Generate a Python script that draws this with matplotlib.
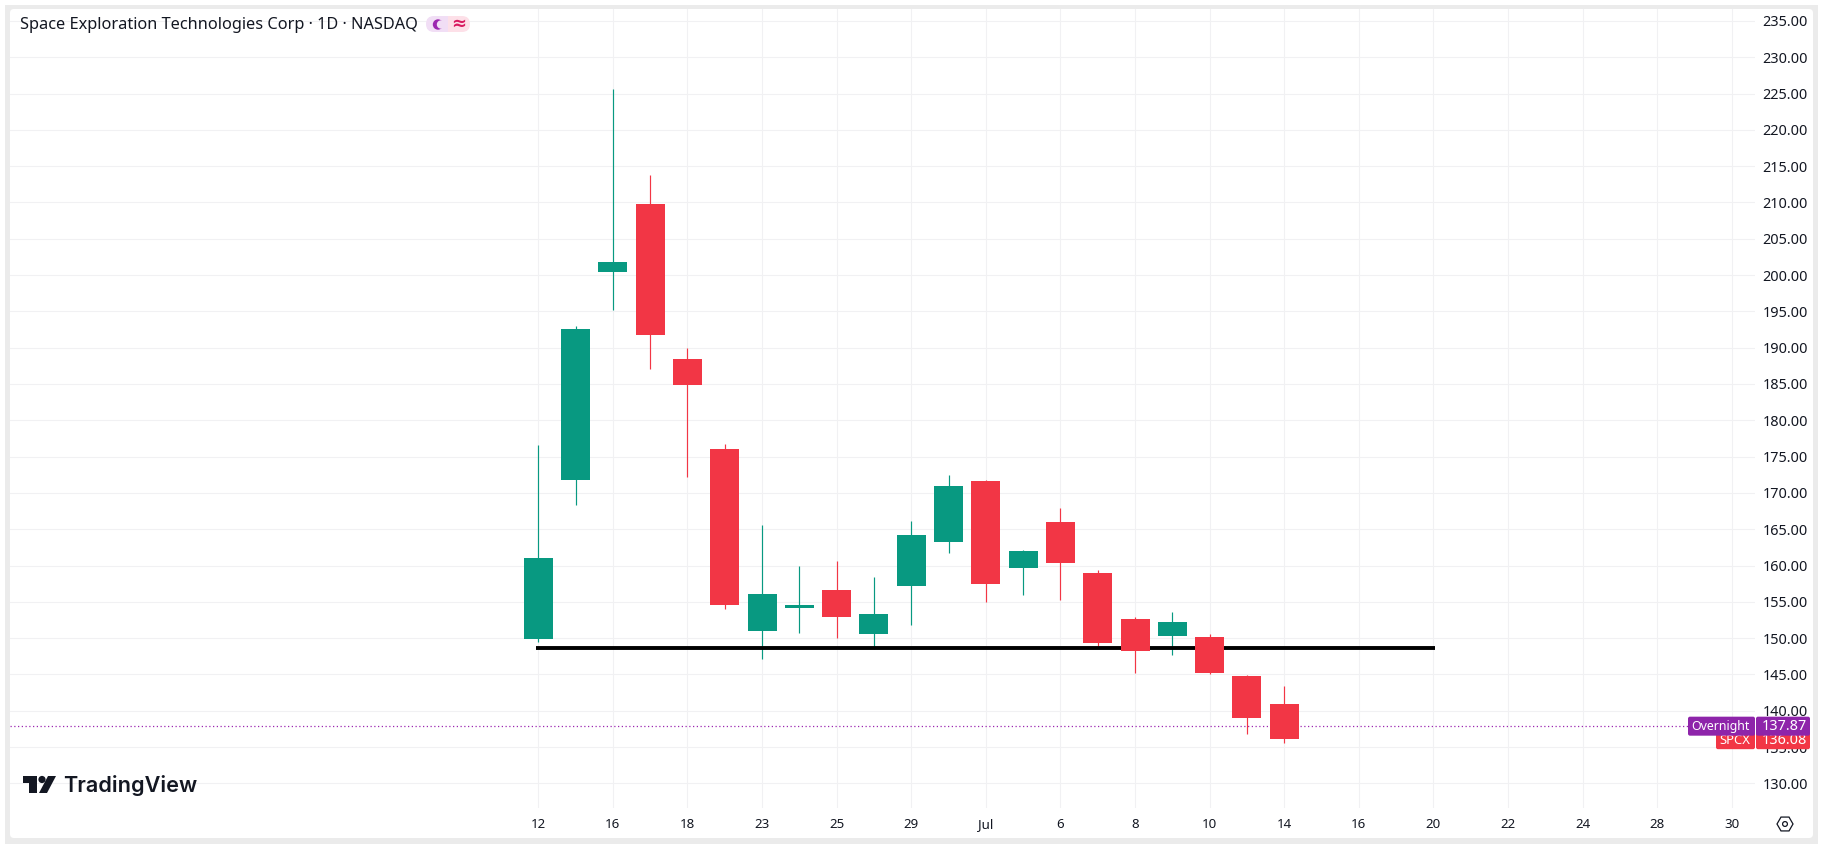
import matplotlib
matplotlib.use("Agg")
import matplotlib.pyplot as plt
from matplotlib.patches import Rectangle, FancyBboxPatch, Circle, Polygon, RegularPolygon

W, H = 1823, 844

# daily candles, oldest first
opens = [149.9, 171.8, 200.4, 209.8, 188.4, 176.1, 151.0, 154.1, 156.6, 150.6, 157.2,
         163.2, 171.6, 159.7, 166.0, 159.0, 152.6, 150.3, 150.2, 144.8, 140.9]
highs = [176.6, 193.0, 225.6, 213.8, 190.0, 176.7, 165.6, 159.9, 160.6, 158.4, 166.1,
         172.5, 171.8, 162.1, 167.9, 159.4, 152.9, 153.6, 150.6, 144.9, 143.4]
lows = [149.4, 168.4, 195.2, 187.1, 172.2, 154.0, 147.1, 150.7, 150.0, 148.5, 151.8,
        161.7, 155.0, 155.9, 155.2, 148.9, 145.2, 147.7, 145.0, 136.8, 135.6]
closes = [161.0, 192.6, 201.8, 191.7, 184.9, 154.6, 156.1, 154.6, 152.9, 153.3, 164.2,
          170.9, 157.5, 162.0, 160.3, 149.3, 148.2, 152.2, 145.2, 139.0, 136.08]

support_level = 148.7
support_start = -0.06
support_end = 24.04
overnight_price = 137.87
last_price = 136.08

price_ticks = list(range(130, 240, 5))
date_ticks = list(range(0, 34, 2))
date_labels = ["12", "16", "18", "23", "25", "29", "Jul", "6", "8", "10", "14", "16",
               "20", "22", "24", "28", "30"]

GREEN = "#089981"
RED = "#f23645"
PURPLE = "#8e24aa"
GRID = "#f1f1f3"
FRAME = "#ebebeb"
INK = "#131722"
FONT = "Noto Sans"

plt.rcParams["font.family"] = [FONT, "DejaVu Sans"]

fig = plt.figure(figsize=(W / 100, H / 100), dpi=100, facecolor="white")


def pixel_axes(zorder):
    # full-figure axes addressed in image pixels, y pointing down
    a = fig.add_axes([0, 0, 1, 1], zorder=zorder)
    a.set_xlim(0, W)
    a.set_ylim(H, 0)
    a.axis("off")
    return a


# --- window frame behind the chart ---
back = pixel_axes(0)
back.add_patch(Rectangle((5, 5), 1813, 839, color=FRAME, lw=0))
back.add_patch(FancyBboxPatch((10, 9), 1803, 829, boxstyle="round,pad=0,rounding_size=4",
                              fc="white", ec="none"))

# --- price chart ---
ax = fig.add_axes([10 / W, (H - 808) / H, 1745 / W, 799 / H], zorder=1)
ax.patch.set_alpha(0)
ax.set_xlim(-14.16, 32.62)
ax.set_ylim(126.6, 236.65)
for side in ax.spines.values():
    side.set_visible(False)

ax.set_axisbelow(True)
ax.grid(True, color=GRID, linewidth=0.8)
ax.yaxis.tick_right()
ax.set_yticks(price_ticks)
ax.set_yticklabels([f"{p:.2f}" for p in price_ticks], ha="right", fontsize=10.4, color=INK)
ax.set_xticks(date_ticks)
ax.set_xticklabels(date_labels, fontsize=9.6, color=INK)
ax.tick_params(axis="both", length=0)
ax.tick_params(axis="y", pad=38)
ax.tick_params(axis="x", pad=7.5)
ax.get_xticklabels()[date_labels.index("Jul")].set_fontweight("bold")

days = list(range(len(opens)))
colors = [GREEN if c >= o else RED for o, c in zip(opens, closes)]
ax.vlines(days, lows, highs, colors=colors, linewidth=0.85, zorder=2)
ax.hlines(support_level, support_start, support_end, color="black", linewidth=2.8, zorder=3)
ax.bar(days, [abs(c - o) for o, c in zip(opens, closes)],
       bottom=[min(o, c) for o, c in zip(opens, closes)],
       width=0.778, color=colors, linewidth=0, zorder=4)
ax.axhline(overnight_price, color="#9c27b0", linewidth=0.9, linestyle=(0, (1, 2)), zorder=1.5)

# --- header, logo and price tags on top ---
top = pixel_axes(2)


def to_y(price):
    # pixel row of a price on the chart axes
    return H - ax.transData.transform((0, price))[1]


top.text(20, 25, "Space Exploration Technologies Corp · 1D · NASDAQ", fontsize=11.75,
         color=INK, va="center", ha="left")

# session badge
pill = FancyBboxPatch((426, 16), 44, 16, boxstyle="round,pad=0,rounding_size=8",
                      fc="none", ec="none")
top.add_patch(pill)
for x0, shade in [(426, "#f1def5"), (448, "#fde0e8")]:
    half = Rectangle((x0, 16), 22, 16, color=shade, lw=0)
    top.add_patch(half)
    half.set_clip_path(pill)
top.add_patch(Circle((438, 24.5), 5.2, color="#9c27b0", lw=0))
top.add_patch(Circle((441, 24.5), 4.2, color="#f1def5", lw=0))
top.text(458.5, 24, "≈", fontsize=13, color="#d81b60", ha="center", va="center",
         fontweight="bold", family="DejaVu Sans")

# logo mark and wordmark
top.add_patch(Polygon([(23, 776), (36.5, 776), (36.5, 793), (29, 793), (29, 783), (23, 783)],
                      color="#131722", lw=0))
top.add_patch(Circle((42, 779.5), 3.6, color="#131722", lw=0))
top.add_patch(Polygon([(48, 776), (56, 776), (47, 793), (39, 793)], color="#131722", lw=0))
top.text(63, 786, "TradingView", fontsize=15.6, color="#131722", fontweight="semibold",
         va="center", ha="left", family="Inter")

# last price tag sits under the overnight tag, which hides its upper edge
red_mid = to_y(last_price)
top.add_patch(FancyBboxPatch((1716, red_mid - 10), 39, 20, boxstyle="round,pad=0,rounding_size=2",
                             fc=RED, ec="none", zorder=3))
top.add_patch(FancyBboxPatch((1756, red_mid - 10), 54, 20, boxstyle="round,pad=0,rounding_size=2",
                             fc=RED, ec="none", zorder=3))
top.text(1750, red_mid + 1, "SPCX", fontsize=9.4, color="white", ha="right", va="center", zorder=4)
top.text(1807, red_mid + 1, f"{last_price:.2f}", fontsize=10.4, color="white", ha="right",
         va="center", zorder=4)

purple_mid = to_y(overnight_price)
top.add_patch(FancyBboxPatch((1688, purple_mid - 9.5), 67, 19, boxstyle="round,pad=0,rounding_size=2",
                             fc=PURPLE, ec="none", zorder=5))
top.add_patch(FancyBboxPatch((1756, purple_mid - 9.5), 54, 19, boxstyle="round,pad=0,rounding_size=2",
                             fc=PURPLE, ec="none", zorder=5))
top.text(1750, purple_mid, "Overnight", fontsize=8.85, color="white", ha="right", va="center",
         fontweight="semibold", zorder=6)
top.text(1807, purple_mid, f"{overnight_price:.2f}", fontsize=10.4, color="white", ha="right",
         va="center", fontweight="semibold", zorder=6)

# settings gear in the corner
top.add_patch(RegularPolygon((1785, 824), 6, radius=8, orientation=3.14159 / 6, fc="none",
                             ec=INK, lw=0.9))
top.add_patch(Circle((1785, 824), 2.4, fc="none", ec=INK, lw=0.9))

fig.savefig("out.png", dpi=100)
